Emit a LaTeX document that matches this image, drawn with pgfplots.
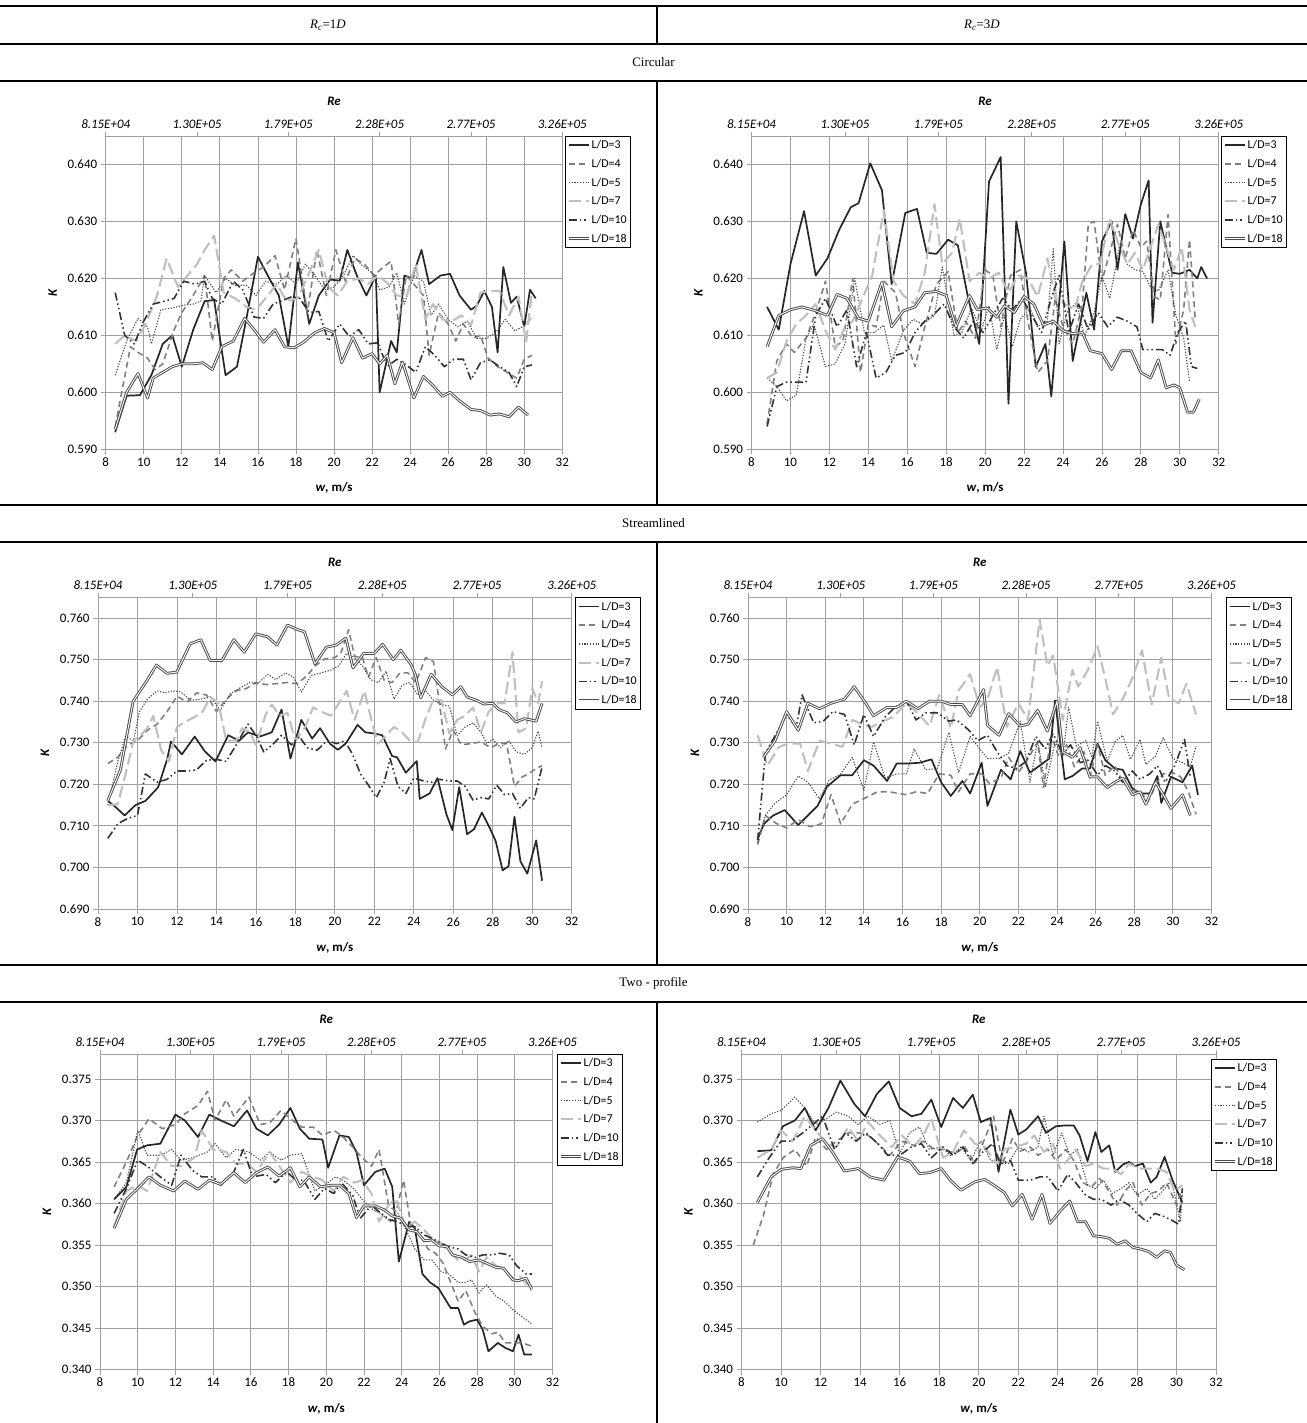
\documentclass[border=0pt]{standalone}
\usepackage{pgfplots}
\pgfplotsset{compat=1.18}
\usepackage{fontspec}
\setmainfont{Carlito}
\newfontfamily\timesfont{Liberation Serif}
\definecolor{gridc}{RGB}{160,160,160}
\definecolor{c3}{RGB}{38,38,38}
\definecolor{c4}{RGB}{128,128,128}
\definecolor{c5}{RGB}{70,70,70}
\definecolor{c7}{RGB}{191,191,191}
\definecolor{c10}{RGB}{51,51,51}
\definecolor{c18}{RGB}{75,75,75}
\pgfplotsset{
 panel/.style={scale only axis, xmin=8, xmax=32, xtick={8,10,...,32}, no markers,
   axis x line*=bottom, axis y line*=left,
   every outer x axis line/.append style={-}, every outer y axis line/.append style={-},
   every inner x axis line/.append style={-}, every inner y axis line/.append style={-},
   axis line style={gridc, line width=0.8bp},
   grid=major, grid style={gridc, line width=0.8bp},
   tick style={gridc, line width=0.8bp}, tick align=outside, major tick length=5bp,
   ticklabel style={font=\fontsize{13}{15}\selectfont},
   /pgf/number format/assume math mode=true,
   yticklabel style={/pgf/number format/.cd, fixed, fixed zerofill, precision=3},
   xlabel={\textbf{\textit{w}, m/s}},
   ylabel={\textbf{\textit{K}}},
   label style={font=\fontsize{13}{15}\selectfont},
   xlabel style={at={(axis description cs:0.5,0)}, anchor=center, yshift=-39bp},
   ylabel style={at={([xshift=-53bp]axis description cs:0,0.5)}, anchor=center},
   legend cell align=left,
   legend style={font=\fontsize{12}{14}\selectfont, draw=black, line width=0.8bp, at={(1,1)}, anchor=north west, inner xsep=2bp, inner ysep=2.5bp, row sep=5.9bp, nodes={inner sep=1.5bp}},
   legend image code/.code={\draw[#1] (0bp,0bp) -- (20bp,0bp);},
   every axis plot/.append style={line join=round},
 },
 reaxis/.style={scale only axis, xmin=8, xmax=32, ymin=0, ymax=1,
   axis x line*=top, axis y line=none, ytick=\empty,
   every outer x axis line/.append style={-}, every inner x axis line/.append style={-},
   axis line style={gridc, line width=0.8bp},
   tick style={gridc, line width=0.8bp}, tick align=outside, major tick length=4bp,
   xtick={8,12.8,17.6,22.4,27.2,32},
   xticklabels={8.15E+04,1.30E+05,1.79E+05,2.28E+05,2.77E+05,3.26E+05},
   xticklabel style={font=\fontsize{13}{15}\selectfont\itshape},
   xlabel={\textbf{\textit{Re}}},
   xlabel style={font=\fontsize{13}{15}\selectfont, at={(axis description cs:0.5,1)}, anchor=center, yshift=35bp},
 },
 s3/.style={draw=c3, line width=1.7bp},
 s4/.style={draw=c4, line width=1.6bp, dash pattern=on 6bp off 4bp},
 s5/.style={draw=c5, line width=1.1bp, dash pattern=on 1.2bp off 1.6bp},
 s7/.style={draw=c7, line width=2.1bp, dash pattern=on 12bp off 5bp},
 s10/.style={draw=c10, line width=1.6bp, dash pattern=on 8bp off 3bp on 1.5bp off 3bp on 1.5bp off 3bp},
 s18/.style={draw=c18, line width=0.95bp, double=white, double distance=0.9bp},
}
\begin{document}
\begin{tikzpicture}
\path[use as bounding box] (0bp,0bp) rectangle (1307bp,1423bp);
% table rules
\foreach \yy in {1417,1379,1342,918,881,458,421} {\draw[line width=1.8bp] (0bp,\yy bp) -- (1307bp,\yy bp);}
\draw[line width=1.6bp] (657bp,1417bp) -- (657bp,1379bp);
\draw[line width=1.6bp] (657bp,1342bp) -- (657bp,918bp);
\draw[line width=1.6bp] (657bp,881bp) -- (657bp,458bp);
\draw[line width=1.6bp] (657bp,421bp) -- (657bp,0bp);
\node[font=\timesfont\fontsize{13}{15}\selectfont] at (328bp,1398bp) {\textit{R}\textsubscript{\textit{c}}=1\textit{D}};
\node[font=\timesfont\fontsize{13}{15}\selectfont] at (982bp,1398bp) {\textit{R}\textsubscript{\textit{c}}=3\textit{D}};
\node[font=\timesfont\fontsize{13}{15}\selectfont] at (653.5bp,1360.5bp) {Circular};
\node[font=\timesfont\fontsize{13}{15}\selectfont] at (653.5bp,899.5bp) {Streamlined};
\node[font=\timesfont\fontsize{13}{15}\selectfont] at (653.5bp,439.5bp) {Two - profile};

% ===== Panel A: Circular, Rc=1D =====
\begin{axis}[panel, at={(105.7bp,973.7bp)}, anchor=south west, width=456.6bp, height=313.3bp,
  ymin=0.590, ymax=0.645, ytick={0.590,0.600,0.610,0.620,0.630,0.640}, legend style={xshift=2.7bp}]
\addplot[s3] coordinates {(8.5,0.593) (9.1,0.5994) (9.8,0.5995) (10.4,0.603) (11.0,0.6085) (11.5,0.610) (12.0,0.6045) (12.6,0.611) (13.2,0.616) (13.7,0.6162) (14.3,0.603) (14.9,0.6045) (15.4,0.613) (16.0,0.6238) (16.6,0.620) (17.1,0.617) (17.6,0.608) (18.1,0.6228) (18.7,0.612) (19.2,0.617) (19.8,0.6198) (20.3,0.6196) (20.7,0.625) (21.2,0.6205) (21.7,0.617) (22.2,0.6205) (22.4,0.600) (23.0,0.609) (23.3,0.607) (23.7,0.6205) (24.1,0.620) (24.6,0.625) (25.0,0.619) (25.6,0.6205) (26.1,0.6208) (26.6,0.617) (27.2,0.6145) (27.5,0.6152) (27.9,0.6178) (28.3,0.615) (28.6,0.607) (28.9,0.622) (29.3,0.6157) (29.6,0.6168) (30.0,0.6115) (30.3,0.618) (30.6,0.6165)};
\addplot[s4] coordinates {(8.5,0.594) (8.9,0.601) (9.3,0.608) (9.7,0.607) (10.2,0.606) (10.6,0.604) (11.0,0.605) (11.6,0.611) (12.0,0.614) (12.6,0.617) (13.2,0.6205) (13.6,0.609) (14.2,0.620) (14.6,0.6215) (15.2,0.6195) (15.8,0.621) (16.3,0.622) (16.9,0.624) (17.4,0.618) (18.0,0.627) (18.6,0.614) (19.1,0.625) (19.6,0.617) (20.1,0.625) (20.6,0.6195) (21.1,0.6235) (21.6,0.6225) (22.1,0.6205) (22.6,0.622) (23.0,0.623) (23.4,0.612) (23.8,0.6205) (24.2,0.619) (24.7,0.617) (25.0,0.6065) (25.5,0.614) (26.0,0.612) (26.4,0.609) (26.8,0.612) (27.3,0.6095) (27.7,0.610) (28.1,0.606) (28.6,0.6045) (29.1,0.6035) (29.6,0.6025) (30.0,0.6058) (30.4,0.6065)};
\addplot[s5] coordinates {(8.5,0.603) (9.1,0.609) (9.7,0.613) (10.2,0.6115) (10.4,0.6085) (10.9,0.6145) (11.5,0.6148) (12.1,0.6153) (12.6,0.6155) (13.0,0.616) (13.2,0.6205) (13.8,0.6175) (14.3,0.620) (14.8,0.6188) (15.4,0.6188) (15.9,0.617) (16.4,0.6195) (17.0,0.619) (17.5,0.6205) (18.0,0.619) (18.5,0.6225) (19.0,0.6205) (19.5,0.618) (20.0,0.6185) (20.5,0.6205) (21.0,0.624) (21.5,0.6222) (22.0,0.621) (22.4,0.618) (22.9,0.6185) (23.3,0.621) (23.7,0.6155) (24.2,0.6205) (24.7,0.6195) (25.1,0.6135) (25.5,0.6155) (26.0,0.6128) (26.5,0.6115) (27.0,0.6125) (27.5,0.6095) (28.0,0.6095) (28.5,0.6105) (29.0,0.6128) (29.5,0.6108) (29.9,0.6115) (30.4,0.613)};
\addplot[s7] coordinates {(8.5,0.6085) (9.0,0.610) (9.6,0.609) (10.1,0.612) (10.7,0.617) (11.2,0.6235) (11.8,0.6185) (12.3,0.6205) (12.8,0.6225) (13.2,0.625) (13.7,0.6275) (14.2,0.6175) (14.8,0.6165) (15.4,0.615) (15.9,0.6145) (16.4,0.6165) (17.0,0.619) (17.5,0.616) (18.1,0.6165) (18.7,0.621) (19.2,0.625) (19.7,0.6185) (20.2,0.617) (20.7,0.6195) (21.3,0.620) (21.8,0.619) (22.3,0.6205) (22.8,0.6192) (23.3,0.617) (23.8,0.6168) (24.3,0.6225) (24.8,0.6128) (25.2,0.6155) (25.7,0.6128) (26.2,0.6125) (26.7,0.6135) (27.2,0.6118) (27.7,0.6175) (28.2,0.6178) (28.7,0.6178) (29.2,0.6135) (29.7,0.6168) (30.1,0.6088) (30.4,0.6175)};
\addplot[s10] coordinates {(8.5,0.6175) (9.0,0.610) (9.5,0.6085) (10.0,0.6125) (10.5,0.6155) (11.1,0.616) (11.6,0.6165) (12.1,0.6195) (12.7,0.619) (13.2,0.6195) (13.6,0.6165) (14.1,0.6155) (14.7,0.6195) (15.2,0.618) (15.8,0.6132) (16.3,0.613) (16.8,0.6155) (17.2,0.616) (17.8,0.6168) (18.2,0.6165) (18.7,0.614) (19.2,0.6142) (19.7,0.609) (20.3,0.612) (20.8,0.6098) (21.3,0.611) (21.8,0.6085) (22.3,0.6087) (22.8,0.6045) (23.3,0.6058) (23.8,0.6048) (24.3,0.6035) (24.8,0.608) (25.3,0.6065) (25.8,0.6045) (26.3,0.6058) (26.8,0.6058) (27.2,0.6022) (27.7,0.6052) (28.2,0.6057) (28.7,0.6045) (29.2,0.6035) (29.6,0.601) (30.0,0.6045) (30.4,0.6048)};
\addplot[s18] coordinates {(8.5,0.5935) (9.1,0.600) (9.7,0.6033) (10.2,0.599) (10.5,0.6025) (11.0,0.6035) (11.5,0.6045) (12.0,0.605) (12.6,0.605) (13.1,0.6052) (13.6,0.604) (14.1,0.608) (14.7,0.609) (15.3,0.613) (15.8,0.611) (16.3,0.6088) (16.9,0.611) (17.4,0.608) (17.9,0.6078) (18.4,0.6088) (19.0,0.6105) (19.5,0.6112) (20.0,0.6105) (20.4,0.6052) (21.0,0.6096) (21.5,0.606) (22.0,0.6068) (22.4,0.605) (22.8,0.6065) (23.2,0.6015) (23.6,0.6053) (24.2,0.599) (24.7,0.6028) (25.2,0.6012) (25.7,0.5993) (26.1,0.600) (26.6,0.5985) (27.2,0.597) (27.7,0.5968) (28.2,0.596) (28.7,0.5962) (29.2,0.5957) (29.7,0.5974) (30.2,0.596)};
\legend{L/D=3,L/D=4,L/D=5,L/D=7,L/D=10,L/D=18}
\end{axis}
\begin{axis}[reaxis, at={(105.7bp,973.7bp)}, anchor=south west, width=456.6bp, height=313.3bp]
\end{axis}

% ===== Panel B: Circular, Rc=3D =====
\begin{axis}[panel, at={(751.5bp,973.7bp)}, anchor=south west, width=467.2bp, height=313.3bp,
  ymin=0.590, ymax=0.645, ytick={0.590,0.600,0.610,0.620,0.630,0.640}, legend style={xshift=2.3bp}]
\addplot[s3] coordinates {(8.8,0.615) (9.4,0.611) (10.0,0.6225) (10.7,0.6318) (11.3,0.6205) (11.9,0.6235) (12.5,0.6285) (13.1,0.6325) (13.5,0.6332) (14.1,0.6402) (14.7,0.6355) (15.2,0.619) (15.9,0.6315) (16.5,0.6322) (17.0,0.6245) (17.5,0.6243) (18.1,0.6268) (18.6,0.6258) (19.1,0.617) (19.7,0.6085) (20.2,0.637) (20.8,0.6413) (21.2,0.598) (21.6,0.630) (22.1,0.621) (22.6,0.6045) (23.1,0.6085) (23.4,0.5993) (24.07,0.6265) (24.5,0.6055) (25.2,0.6175) (25.6,0.611) (26.0,0.6265) (26.5,0.630) (26.8,0.6215) (27.2,0.6313) (27.6,0.627) (28.0,0.633) (28.4,0.6372) (28.6,0.6122) (29.0,0.630) (29.6,0.621) (30.0,0.6208) (30.5,0.6215) (30.9,0.620) (31.1,0.622) (31.4,0.620)};
\addplot[s4] coordinates {(8.8,0.5945) (9.3,0.6055) (9.8,0.6085) (10.2,0.607) (10.8,0.6095) (11.3,0.614) (11.8,0.6195) (12.3,0.608) (12.7,0.609) (13.2,0.620) (13.6,0.6035) (14.0,0.612) (14.4,0.6115) (14.8,0.6195) (15.4,0.6175) (15.8,0.6105) (16.4,0.6045) (16.9,0.6115) (17.5,0.619) (18.1,0.6212) (18.6,0.6105) (19.0,0.6125) (19.5,0.6095) (20.0,0.6215) (20.4,0.6205) (20.8,0.6115) (21.3,0.6205) (21.8,0.6215) (22.2,0.6125) (22.7,0.6035) (23.2,0.6055) (23.6,0.6165) (24.0,0.6115) (24.5,0.6085) (25.0,0.6155) (25.3,0.6295) (25.6,0.630) (26.0,0.6195) (26.4,0.6245) (26.8,0.6295) (27.2,0.6235) (27.6,0.6285) (28.0,0.6255) (28.3,0.6265) (28.7,0.6168) (29.0,0.6162) (29.4,0.6312) (29.8,0.6085) (30.2,0.6145) (30.5,0.6268) (30.8,0.6125)};
\addplot[s5] coordinates {(8.8,0.6025) (9.3,0.601) (9.8,0.5985) (10.3,0.5995) (10.8,0.6095) (11.2,0.612) (11.8,0.6045) (12.3,0.605) (12.8,0.6085) (13.3,0.620) (13.8,0.6105) (14.3,0.6105) (14.8,0.6118) (15.2,0.6055) (15.8,0.6108) (16.3,0.6128) (16.8,0.612) (17.4,0.6135) (17.8,0.622) (18.4,0.610) (18.8,0.6105) (19.3,0.6148) (19.8,0.6108) (20.2,0.6152) (20.6,0.6075) (21.0,0.6135) (21.4,0.608) (21.8,0.6128) (22.3,0.6148) (22.7,0.6115) (23.2,0.6125) (23.5,0.6252) (23.8,0.6085) (24.2,0.614) (24.7,0.6158) (25.1,0.6098) (25.6,0.614) (26.0,0.6205) (26.4,0.6165) (26.9,0.6255) (27.3,0.6225) (27.7,0.6215) (28.1,0.6212) (28.5,0.6185) (28.9,0.6178) (29.4,0.6215) (29.8,0.6135) (30.2,0.6095) (30.5,0.6018)};
\addplot[s7] coordinates {(8.8,0.6025) (9.3,0.6035) (9.8,0.609) (10.3,0.612) (10.8,0.6135) (11.3,0.6155) (11.8,0.6108) (12.3,0.6075) (12.8,0.6115) (13.2,0.6125) (13.7,0.6165) (14.2,0.6205) (14.8,0.632) (15.3,0.6195) (15.8,0.617) (16.4,0.6155) (16.9,0.621) (17.4,0.633) (17.8,0.6225) (18.3,0.6245) (18.7,0.6305) (19.2,0.6195) (19.7,0.621) (20.2,0.620) (20.7,0.621) (21.2,0.6175) (21.7,0.6205) (22.2,0.620) (22.7,0.6168) (23.2,0.6235) (23.6,0.6165) (24.1,0.6155) (24.6,0.6145) (25.0,0.6195) (25.5,0.6225) (25.9,0.6225) (26.4,0.6305) (26.8,0.6265) (27.3,0.6225) (27.7,0.6245) (28.1,0.6215) (28.5,0.6255) (28.9,0.6295) (29.3,0.6255) (29.7,0.6215) (30.1,0.6255) (30.5,0.6145) (30.8,0.6115)};
\addplot[s10] coordinates {(8.8,0.594) (9.3,0.601) (9.8,0.6018) (10.3,0.6018) (10.8,0.6018) (11.3,0.6135) (11.8,0.6165) (12.4,0.6115) (12.9,0.6145) (13.4,0.6045) (13.9,0.6105) (14.4,0.6025) (14.9,0.6035) (15.4,0.6065) (15.9,0.607) (16.4,0.6105) (16.9,0.6125) (17.4,0.6138) (17.9,0.6155) (18.4,0.6115) (18.9,0.6095) (19.4,0.6125) (19.9,0.6105) (20.4,0.6135) (20.9,0.6165) (21.4,0.6145) (21.9,0.6165) (22.4,0.6135) (22.9,0.6105) (23.4,0.6165) (23.8,0.6205) (24.3,0.6105) (24.8,0.6155) (25.3,0.611) (25.8,0.614) (26.3,0.6115) (26.8,0.6132) (27.3,0.6125) (27.8,0.6115) (28.1,0.6075) (28.6,0.6075) (29.1,0.6075) (29.5,0.6065) (29.9,0.6105) (30.3,0.6125) (30.6,0.6045) (30.9,0.6042)};
\addplot[s18] coordinates {(8.8,0.608) (9.4,0.6135) (10.0,0.6145) (10.6,0.615) (11.3,0.6143) (11.9,0.6135) (12.4,0.6172) (12.9,0.6165) (13.5,0.613) (14.0,0.6125) (14.7,0.6193) (15.2,0.6115) (15.8,0.6143) (16.4,0.615) (16.9,0.6175) (17.5,0.6177) (18.0,0.617) (18.5,0.6115) (19.2,0.617) (19.6,0.6145) (20.1,0.6148) (20.6,0.6132) (21.0,0.6152) (21.5,0.614) (22.0,0.6168) (22.5,0.6155) (23.0,0.6118) (23.5,0.6125) (24.0,0.6108) (24.5,0.6103) (25.0,0.6105) (25.4,0.6073) (26.0,0.6068) (26.5,0.604) (27.0,0.6073) (27.5,0.6073) (28.0,0.6035) (28.5,0.6025) (28.9,0.6057) (29.3,0.6008) (29.7,0.6013) (30.0,0.6008) (30.4,0.5965) (30.7,0.5965) (31.0,0.5988)};
\legend{L/D=3,L/D=4,L/D=5,L/D=7,L/D=10,L/D=18}
\end{axis}
\begin{axis}[reaxis, at={(751.5bp,973.7bp)}, anchor=south west, width=467.2bp, height=313.3bp]
\end{axis}

% ===== Panel C: Streamlined, Rc=1D =====
\begin{axis}[panel, at={(98bp,514bp)}, anchor=south west, width=473.7bp, height=311.7bp,
  ymin=0.690, ymax=0.765, ytick={0.690,0.700,0.710,0.720,0.730,0.740,0.750,0.760}, legend style={xshift=3.3bp}]
\addplot[s3] coordinates {(8.5,0.716) (8.9,0.7145) (9.35,0.7125) (9.9,0.715) (10.4,0.716) (11.05,0.7193) (11.5,0.726) (11.7,0.7303) (12.25,0.7272) (12.9,0.7315) (13.4,0.728) (13.95,0.7255) (14.6,0.7318) (15.15,0.7305) (15.6,0.7325) (16.2,0.7315) (16.8,0.7325) (17.3,0.738) (17.75,0.7262) (18.3,0.7355) (18.85,0.731) (19.25,0.7335) (19.75,0.7298) (20.15,0.7283) (20.55,0.7298) (21.15,0.7343) (21.55,0.7325) (22.05,0.7322) (22.4,0.7318) (22.9,0.7268) (23.15,0.7265) (23.6,0.7228) (24.15,0.7256) (24.3,0.7165) (24.8,0.7178) (25.2,0.7215) (25.65,0.7128) (25.95,0.709) (26.3,0.7193) (26.7,0.708) (27.05,0.7092) (27.45,0.7132) (27.85,0.7095) (28.15,0.7063) (28.5,0.6993) (28.8,0.7003) (29.1,0.7122) (29.4,0.7015) (29.75,0.6985) (30.2,0.7065) (30.5,0.6968)};
\addplot[s4] coordinates {(8.5,0.725) (9.0,0.7265) (9.5,0.7295) (10.0,0.7305) (10.5,0.733) (11.0,0.7345) (11.5,0.7375) (12.0,0.7412) (12.5,0.7398) (13.0,0.742) (13.5,0.7415) (14.0,0.7375) (14.5,0.7405) (15.0,0.7425) (15.5,0.743) (16.0,0.7445) (16.5,0.744) (17.0,0.7442) (17.6,0.7445) (18.1,0.7442) (18.6,0.7462) (19.0,0.7485) (19.5,0.7502) (20.0,0.7505) (20.3,0.7515) (20.7,0.7572) (21.0,0.7508) (21.4,0.7505) (21.7,0.7458) (22.1,0.7505) (22.5,0.745) (22.9,0.7445) (23.3,0.7468) (23.7,0.7468) (24.1,0.7445) (24.6,0.7505) (25.0,0.7495) (25.3,0.7395) (25.6,0.7285) (26.0,0.733) (26.4,0.7295) (26.9,0.7298) (27.4,0.7302) (27.9,0.7288) (28.3,0.7298) (28.7,0.7298) (29.1,0.7195) (29.5,0.7218) (29.8,0.7225) (30.1,0.7235) (30.5,0.7245)};
\addplot[s5] coordinates {(8.5,0.715) (9.0,0.7255) (9.4,0.7315) (9.8,0.7305) (10.1,0.7375) (10.5,0.7405) (11.0,0.7425) (11.4,0.742) (11.8,0.7425) (12.2,0.7422) (12.7,0.7402) (13.2,0.7405) (13.7,0.741) (14.2,0.7378) (14.7,0.7418) (15.2,0.7432) (15.7,0.7445) (16.1,0.7442) (16.6,0.7465) (17.0,0.7452) (17.5,0.7468) (17.9,0.7458) (18.3,0.7422) (18.8,0.7462) (19.3,0.7468) (19.8,0.7475) (20.2,0.7485) (20.6,0.7515) (21.0,0.7505) (21.4,0.7485) (21.8,0.7452) (22.2,0.7445) (22.6,0.7472) (23.0,0.7405) (23.4,0.7438) (23.8,0.7445) (24.2,0.7415) (24.6,0.7425) (25.0,0.7402) (25.4,0.7392) (25.8,0.7388) (26.2,0.7318) (26.6,0.7338) (27.0,0.7348) (27.4,0.7325) (27.7,0.7298) (28.0,0.7308) (28.4,0.7288) (28.8,0.7305) (29.2,0.7278) (29.6,0.7272) (30.0,0.7288) (30.3,0.7328) (30.5,0.7288)};
\addplot[s7] coordinates {(8.5,0.715) (9.0,0.7152) (9.4,0.7225) (9.8,0.7305) (10.1,0.7315) (10.5,0.7335) (10.8,0.7365) (11.2,0.7282) (11.6,0.7255) (12.0,0.7338) (12.4,0.735) (12.9,0.7362) (13.3,0.7375) (13.7,0.741) (14.1,0.7395) (14.5,0.7305) (15.0,0.7305) (15.3,0.7335) (15.7,0.7325) (16.0,0.7295) (16.5,0.7368) (16.8,0.7392) (17.2,0.7365) (17.6,0.7372) (18.0,0.7305) (18.5,0.7338) (18.9,0.7385) (19.3,0.7375) (19.8,0.7365) (20.2,0.7395) (20.6,0.7425) (21.0,0.7355) (21.5,0.7425) (21.9,0.7345) (22.2,0.7298) (22.6,0.7318) (23.0,0.7338) (23.4,0.7325) (23.8,0.7305) (24.2,0.7302) (24.6,0.7358) (25.0,0.7405) (25.4,0.7402) (25.8,0.7322) (26.2,0.7355) (26.6,0.7365) (27.0,0.7385) (27.4,0.7325) (27.8,0.7375) (28.2,0.7395) (28.6,0.7395) (29.0,0.7518) (29.3,0.7325) (29.7,0.7335) (30.0,0.7432) (30.3,0.7395) (30.5,0.7448)};
\addplot[s10] coordinates {(8.5,0.707) (9.0,0.7105) (9.5,0.7118) (10.0,0.7125) (10.4,0.7225) (11.0,0.7205) (11.5,0.7212) (12.0,0.7232) (12.5,0.7232) (13.0,0.7235) (13.5,0.7258) (14.0,0.726) (14.5,0.7255) (15.0,0.7295) (15.6,0.7345) (16.0,0.7318) (16.4,0.7278) (16.9,0.7298) (17.3,0.7318) (17.8,0.7295) (18.2,0.7315) (18.6,0.7288) (19.1,0.7282) (19.6,0.7305) (20.1,0.7298) (20.5,0.7305) (20.9,0.7272) (21.3,0.7225) (21.7,0.7198) (22.1,0.7168) (22.5,0.7205) (22.8,0.7262) (23.2,0.7195) (23.6,0.7178) (24.0,0.7215) (24.5,0.7208) (24.9,0.7205) (25.3,0.7212) (25.8,0.7208) (26.2,0.7208) (26.6,0.7195) (27.0,0.7162) (27.4,0.7168) (27.8,0.7165) (28.2,0.7198) (28.6,0.7175) (29.0,0.7178) (29.4,0.7142) (29.8,0.7168) (30.1,0.7165) (30.5,0.7242)};
\addplot[s18] coordinates {(8.49,0.716) (9.14,0.7235) (9.78,0.740) (10.42,0.7445) (10.96,0.7487) (11.49,0.7467) (11.99,0.747) (12.67,0.7538) (13.21,0.7548) (13.68,0.7498) (14.28,0.7498) (14.88,0.7548) (15.41,0.7518) (15.99,0.7562) (16.59,0.7555) (17.06,0.7535) (17.6,0.7583) (18.13,0.7572) (18.46,0.7567) (18.99,0.749) (19.57,0.753) (20.06,0.7535) (20.56,0.7552) (20.92,0.748) (21.46,0.7515) (21.99,0.7515) (22.42,0.7537) (22.96,0.75) (23.34,0.7523) (23.86,0.7488) (24.07,0.7465) (24.35,0.7408) (24.88,0.7465) (25.42,0.7435) (25.96,0.7415) (26.38,0.7435) (26.71,0.741) (27.13,0.7403) (27.56,0.7393) (27.99,0.7395) (28.31,0.738) (28.74,0.7372) (29.17,0.735) (29.6,0.7358) (29.92,0.7355) (30.2,0.7352) (30.5,0.7395)};
\legend{L/D=3,L/D=4,L/D=5,L/D=7,L/D=10,L/D=18}
\end{axis}
\begin{axis}[reaxis, at={(98bp,514bp)}, anchor=south west, width=473.7bp, height=311.7bp]
\end{axis}

% ===== Panel D: Streamlined, Rc=3D =====
\begin{axis}[panel, at={(748bp,514bp)}, anchor=south west, width=463.5bp, height=311.7bp,
  ymin=0.690, ymax=0.765, ytick={0.690,0.700,0.710,0.720,0.730,0.740,0.750,0.760}, legend style={xshift=14.5bp}]
\addplot[s3] coordinates {(8.5,0.707) (8.83,0.7105) (9.3,0.7125) (9.9,0.7138) (10.6,0.7102) (11.1,0.7125) (11.6,0.7148) (12.1,0.7195) (12.8,0.7222) (13.4,0.7222) (14.0,0.7258) (14.5,0.7245) (15.2,0.7208) (15.7,0.725) (16.3,0.725) (16.9,0.7252) (17.5,0.726) (18.0,0.7205) (18.5,0.7172) (19.1,0.7208) (19.5,0.7178) (20.1,0.7252) (20.4,0.7148) (21.1,0.7235) (21.6,0.7212) (22.1,0.728) (22.6,0.7228) (23.1,0.7245) (23.6,0.7262) (23.9,0.7402) (24.4,0.7212) (24.8,0.722) (25.3,0.7238) (25.7,0.7238) (26.1,0.7298) (26.5,0.7258) (27.0,0.7238) (27.4,0.7235) (27.9,0.719) (28.3,0.7178) (28.8,0.7178) (29.2,0.722) (29.4,0.7155) (29.9,0.7218) (30.5,0.7205) (31.0,0.7245) (31.3,0.7175)};
\addplot[s4] coordinates {(8.5,0.7055) (8.9,0.7125) (9.5,0.7105) (10.0,0.7095) (10.6,0.7115) (11.2,0.7098) (11.8,0.7105) (12.3,0.7175) (12.8,0.7105) (13.4,0.7152) (14.1,0.7168) (14.7,0.7182) (15.3,0.7182) (16.2,0.7175) (16.7,0.7182) (17.3,0.7178) (17.9,0.7225) (18.5,0.7222) (18.9,0.7182) (19.5,0.7225) (20.1,0.7225) (20.5,0.7202) (21.1,0.7215) (21.5,0.7265) (22.0,0.7228) (22.5,0.7262) (23.0,0.7302) (23.3,0.7192) (23.7,0.7318) (24.1,0.7265) (24.5,0.7295) (24.9,0.7242) (25.4,0.7278) (25.7,0.7215) (26.1,0.7295) (26.5,0.7222) (27.0,0.7245) (27.3,0.7215) (27.8,0.7185) (28.3,0.7185) (28.7,0.7158) (29.2,0.7205) (29.5,0.7225) (30.0,0.7228) (30.4,0.7218) (30.8,0.7182) (31.2,0.7128)};
\addplot[s5] coordinates {(8.5,0.706) (8.9,0.7125) (9.4,0.7155) (10.0,0.7175) (10.6,0.722) (11.1,0.7205) (11.7,0.7165) (12.2,0.721) (12.8,0.7225) (13.4,0.7265) (14.0,0.7185) (14.5,0.7302) (15.1,0.7215) (15.7,0.7225) (16.2,0.7225) (16.6,0.7285) (17.2,0.7235) (17.8,0.7238) (18.4,0.7325) (18.9,0.7228) (19.5,0.7315) (20.0,0.7285) (20.4,0.7262) (21.0,0.7262) (21.5,0.7275) (22.1,0.7352) (22.6,0.7205) (23.0,0.7305) (23.4,0.7195) (23.9,0.7302) (24.3,0.7265) (24.6,0.7385) (25.0,0.7292) (25.5,0.7305) (25.8,0.7265) (26.1,0.7352) (26.6,0.7255) (27.0,0.7302) (27.4,0.7318) (27.8,0.726) (28.3,0.7308) (28.6,0.7248) (29.1,0.7268) (29.5,0.7312) (30.0,0.7262) (30.5,0.7252) (30.9,0.7242) (31.2,0.7292)};
\addplot[s7] coordinates {(8.5,0.7318) (9.0,0.7245) (9.6,0.729) (10.1,0.7298) (10.7,0.7298) (11.1,0.7232) (11.7,0.7305) (12.3,0.7298) (12.9,0.729) (13.4,0.7355) (13.9,0.7345) (14.4,0.7338) (15.0,0.7352) (15.5,0.7362) (16.2,0.7395) (16.7,0.7375) (17.4,0.734) (17.9,0.7415) (18.5,0.7335) (18.9,0.7425) (19.5,0.7465) (20.0,0.7385) (20.4,0.7405) (20.9,0.7482) (21.4,0.7338) (22.0,0.7395) (22.5,0.7355) (23.1,0.7597) (23.5,0.7485) (23.8,0.751) (24.3,0.7355) (24.8,0.7475) (25.1,0.7435) (25.6,0.7475) (26.1,0.7532) (26.5,0.7455) (26.9,0.7368) (27.4,0.7405) (27.9,0.7455) (28.4,0.7522) (28.9,0.7392) (29.4,0.7505) (29.8,0.7408) (30.3,0.7395) (30.7,0.7442) (31.2,0.7368)};
\addplot[s10] coordinates {(8.5,0.7065) (8.9,0.7275) (9.5,0.7325) (10.0,0.7368) (10.5,0.7338) (10.8,0.7415) (11.4,0.7348) (11.9,0.7352) (12.4,0.7375) (13.0,0.7368) (13.5,0.7295) (14.0,0.7368) (14.5,0.7315) (15.1,0.7362) (15.6,0.7385) (16.2,0.740) (16.7,0.7355) (17.2,0.7372) (17.8,0.7372) (18.4,0.7352) (18.8,0.7355) (19.4,0.7332) (19.9,0.7305) (20.4,0.7318) (20.9,0.7278) (21.4,0.7245) (21.9,0.7238) (22.4,0.7255) (22.9,0.7315) (23.4,0.7285) (23.8,0.7322) (24.3,0.7272) (24.7,0.7295) (25.2,0.7252) (25.6,0.7258) (26.1,0.7222) (26.5,0.7245) (27.0,0.7232) (27.4,0.7205) (27.9,0.7232) (28.3,0.7212) (28.8,0.7225) (29.2,0.7245) (29.6,0.7205) (30.1,0.7245) (30.6,0.7308) (30.9,0.7218)};
\addplot[s18] coordinates {(8.8,0.7265) (9.4,0.7305) (10.0,0.7375) (10.6,0.733) (11.1,0.7395) (11.7,0.7382) (12.3,0.7395) (13.0,0.7405) (13.5,0.7435) (14.1,0.7395) (14.5,0.7365) (15.2,0.7385) (15.7,0.7385) (16.2,0.740) (16.8,0.7382) (17.4,0.740) (18.0,0.740) (18.5,0.7392) (19.1,0.7392) (19.5,0.7365) (20.2,0.7428) (20.4,0.7342) (21.0,0.7318) (21.5,0.737) (22.1,0.734) (22.5,0.7345) (23.0,0.7378) (23.5,0.7328) (24.0,0.740) (24.3,0.7278) (24.8,0.7265) (25.2,0.7288) (25.7,0.7218) (26.1,0.7218) (26.6,0.7192) (27.0,0.7205) (27.4,0.7215) (27.9,0.7175) (28.3,0.7182) (28.6,0.7152) (29.1,0.7205) (29.5,0.7175) (29.9,0.7142) (30.5,0.7175) (30.9,0.7125)};
\legend{L/D=3,L/D=4,L/D=5,L/D=7,L/D=10,L/D=18}
\end{axis}
\begin{axis}[reaxis, at={(748bp,514bp)}, anchor=south west, width=463.5bp, height=311.7bp]
\end{axis}

% ===== Panel E: Two-profile, Rc=1D =====
\begin{axis}[panel, at={(100bp,53.5bp)}, anchor=south west, width=452.5bp, height=315.5bp,
  ymin=0.340, ymax=0.378, ytick={0.340,0.345,0.350,0.355,0.360,0.365,0.370,0.375}, legend style={xshift=4.5bp}]
\addplot[s3] coordinates {(8.75,0.3605) (9.4,0.362) (9.97,0.3665) (10.5,0.367) (11.2,0.3672) (12.0,0.3707) (12.5,0.370) (13.2,0.368) (13.8,0.3707) (14.4,0.370) (15.1,0.3693) (15.8,0.3712) (16.3,0.369) (16.9,0.3682) (17.5,0.3695) (18.1,0.3715) (18.6,0.369) (19.1,0.3678) (19.8,0.3677) (20.1,0.3643) (20.7,0.3682) (21.2,0.368) (21.6,0.3662) (22.0,0.3622) (22.6,0.3638) (23.1,0.3642) (23.5,0.362) (23.85,0.353) (24.4,0.3578) (24.7,0.357) (25.1,0.3515) (25.5,0.3505) (25.95,0.3498) (26.3,0.3485) (26.6,0.3474) (27.0,0.3474) (27.3,0.3454) (27.6,0.3458) (28.0,0.346) (28.3,0.3448) (28.6,0.3422) (29.1,0.3432) (29.5,0.3426) (29.9,0.3422) (30.2,0.3442) (30.5,0.3418) (30.9,0.3418)};
\addplot[s4] coordinates {(8.75,0.362) (9.4,0.365) (10.0,0.3682) (10.6,0.3702) (11.3,0.369) (12.0,0.3695) (12.5,0.3708) (13.2,0.3718) (13.7,0.3735) (14.1,0.370) (14.7,0.3725) (15.1,0.3705) (15.9,0.3728) (16.5,0.3695) (17.0,0.3697) (17.6,0.3712) (18.1,0.3702) (18.7,0.3692) (19.3,0.3692) (19.8,0.3682) (20.4,0.3688) (20.8,0.3682) (21.4,0.3668) (21.9,0.3655) (22.4,0.3645) (22.8,0.3665) (23.3,0.3598) (23.7,0.359) (24.1,0.3628) (24.5,0.3572) (25.0,0.3562) (25.4,0.3545) (25.8,0.354) (26.2,0.3528) (26.6,0.3505) (27.0,0.3482) (27.4,0.3495) (27.9,0.3468) (28.3,0.3452) (28.8,0.3443) (29.1,0.3445) (29.5,0.3432) (30.0,0.3432) (30.4,0.3432) (30.9,0.3428)};
\addplot[s5] coordinates {(8.75,0.3605) (9.4,0.3625) (10.0,0.3688) (10.5,0.3658) (11.2,0.3658) (11.8,0.3665) (12.3,0.3652) (12.9,0.3655) (13.7,0.3662) (14.1,0.3672) (14.7,0.3655) (15.2,0.3665) (15.9,0.3662) (16.5,0.3652) (17.0,0.3662) (17.6,0.3652) (18.1,0.3658) (18.7,0.366) (19.4,0.3615) (19.9,0.3622) (20.5,0.3632) (20.9,0.3628) (21.5,0.3617) (21.9,0.3605) (22.5,0.3592) (22.9,0.3588) (23.4,0.3578) (23.8,0.3588) (24.3,0.3565) (24.7,0.3545) (25.2,0.3532) (25.6,0.3532) (26.1,0.3518) (26.5,0.3515) (27.0,0.3505) (27.4,0.3505) (27.7,0.3508) (28.1,0.3492) (28.5,0.3502) (29.0,0.3488) (29.4,0.3483) (29.9,0.3472) (30.3,0.3465) (30.9,0.3455)};
\addplot[s7] coordinates {(8.75,0.3572) (9.4,0.3615) (10.0,0.3622) (10.5,0.3615) (11.2,0.3662) (11.8,0.3645) (12.3,0.3645) (13.0,0.3655) (13.4,0.3688) (14.0,0.3665) (14.7,0.3662) (15.2,0.3648) (15.8,0.3648) (16.3,0.3638) (17.0,0.3662) (17.6,0.3642) (18.1,0.3625) (18.7,0.3638) (19.3,0.3632) (19.8,0.3628) (20.4,0.3615) (20.9,0.3632) (21.5,0.3625) (21.9,0.3628) (22.4,0.3612) (22.8,0.3578) (23.3,0.3598) (23.7,0.3605) (24.2,0.3572) (24.7,0.3578) (25.2,0.3568) (25.6,0.3558) (26.1,0.3552) (26.5,0.3542) (27.0,0.3532) (27.4,0.3532) (27.7,0.3538) (28.1,0.3518) (28.5,0.3535) (29.0,0.3525) (29.4,0.3522) (29.9,0.351) (30.3,0.3512) (30.9,0.3495)};
\addplot[s10] coordinates {(8.75,0.3588) (9.4,0.3618) (10.0,0.3652) (10.5,0.3645) (11.2,0.3632) (11.8,0.3622) (12.3,0.3658) (12.9,0.364) (13.4,0.3632) (14.0,0.3632) (14.4,0.3622) (15.1,0.3638) (15.6,0.3665) (16.1,0.3632) (16.8,0.3635) (17.3,0.3625) (17.9,0.3638) (18.4,0.3628) (18.8,0.3628) (19.4,0.3605) (19.9,0.3618) (20.4,0.3612) (20.8,0.3625) (21.4,0.361) (21.8,0.3582) (22.4,0.3598) (22.9,0.3588) (23.4,0.358) (23.8,0.3578) (24.3,0.3572) (24.7,0.3572) (25.2,0.3562) (25.6,0.3558) (26.1,0.3552) (26.5,0.3548) (27.0,0.3545) (27.4,0.3538) (27.9,0.3535) (28.3,0.3538) (28.8,0.3538) (29.2,0.354) (29.7,0.3538) (30.1,0.3525) (30.6,0.3515) (30.9,0.3515)};
\addplot[s18] coordinates {(8.75,0.357) (9.4,0.3605) (10.0,0.3618) (10.6,0.3632) (11.2,0.3622) (11.9,0.3615) (12.5,0.3627) (13.2,0.3617) (13.8,0.3628) (14.4,0.3623) (15.1,0.3637) (15.7,0.3625) (16.3,0.3637) (16.9,0.3644) (17.5,0.3633) (18.1,0.3643) (18.6,0.362) (19.1,0.3632) (19.7,0.362) (20.3,0.3622) (20.7,0.3622) (21.2,0.3612) (21.6,0.3583) (22.0,0.3597) (22.6,0.3597) (23.1,0.3592) (23.5,0.3585) (23.95,0.3582) (24.4,0.3568) (24.8,0.3566) (25.2,0.3555) (25.6,0.3556) (25.96,0.3549) (26.4,0.3548) (26.7,0.3538) (27.2,0.3535) (27.6,0.353) (28.1,0.3532) (28.5,0.3528) (29.0,0.3523) (29.4,0.3522) (29.9,0.3508) (30.2,0.3507) (30.6,0.351) (30.9,0.3497)};
\legend{L/D=3,L/D=4,L/D=5,L/D=7,L/D=10,L/D=18}
\end{axis}
\begin{axis}[reaxis, at={(100bp,53.5bp)}, anchor=south west, width=452.5bp, height=315.5bp]
\end{axis}

% ===== Panel F: Two-profile, Rc=3D =====
\begin{axis}[panel, at={(741.5bp,53.5bp)}, anchor=south west, width=474.5bp, height=315.5bp,
  ymin=0.340, ymax=0.378, ytick={0.340,0.345,0.350,0.355,0.360,0.365,0.370,0.375}, legend style={xshift=-5bp, yshift=-5bp}]
\addplot[s3] coordinates {(8.8,0.3663) (9.5,0.3664) (10.1,0.3693) (10.7,0.370) (11.2,0.3715) (11.75,0.3688) (12.4,0.3715) (13.0,0.3748) (13.7,0.372) (14.25,0.3705) (14.85,0.3732) (15.45,0.3747) (16.0,0.3715) (16.6,0.3705) (17.1,0.3708) (17.6,0.3725) (18.1,0.3692) (18.7,0.3727) (19.2,0.3715) (19.7,0.3731) (20.1,0.3698) (20.6,0.3703) (21.0,0.3638) (21.6,0.3713) (22.0,0.3683) (22.4,0.3689) (23.0,0.3705) (23.4,0.3685) (23.9,0.3693) (24.4,0.3694) (24.8,0.3694) (25.1,0.3682) (25.5,0.3651) (25.9,0.3686) (26.2,0.3662) (26.6,0.367) (26.9,0.3638) (27.3,0.3647) (27.6,0.365) (27.9,0.3645) (28.3,0.3648) (28.7,0.3625) (29.0,0.3632) (29.4,0.3656) (29.8,0.3628) (30.3,0.3601)};
\addplot[s4] coordinates {(8.6,0.355) (9.1,0.3585) (9.6,0.3635) (10.1,0.3655) (10.7,0.3665) (11.3,0.3645) (11.75,0.368) (12.3,0.3665) (12.8,0.3675) (13.4,0.3685) (13.9,0.3685) (14.4,0.3682) (15.0,0.367) (15.5,0.3658) (16.1,0.3675) (16.7,0.367) (17.2,0.3675) (17.75,0.3665) (18.3,0.3665) (18.8,0.366) (19.3,0.3668) (19.8,0.3648) (20.3,0.3678) (20.75,0.3705) (21.2,0.3648) (21.7,0.3678) (22.1,0.3663) (22.6,0.3668) (23.0,0.3658) (23.5,0.3665) (23.9,0.3652) (24.4,0.3665) (24.8,0.3652) (25.25,0.3625) (25.7,0.362) (26.1,0.363) (26.5,0.3618) (27.0,0.3598) (27.4,0.3615) (27.8,0.3625) (28.25,0.3598) (28.7,0.3612) (29.1,0.3615) (29.5,0.3625) (30.0,0.3598) (30.3,0.3618)};
\addplot[s5] coordinates {(8.8,0.3698) (9.5,0.3708) (10.0,0.3712) (10.7,0.3728) (11.2,0.3715) (11.75,0.3695) (12.3,0.3702) (12.8,0.371) (13.4,0.3705) (13.9,0.3695) (14.4,0.3705) (15.0,0.3695) (15.5,0.37) (16.0,0.366) (16.5,0.3685) (17.0,0.3692) (17.5,0.3665) (18.1,0.3668) (18.6,0.3657) (19.1,0.3668) (19.6,0.3652) (20.1,0.3675) (20.6,0.3652) (21.1,0.3648) (21.5,0.3648) (22.0,0.3668) (22.5,0.3662) (23.0,0.3668) (23.3,0.3705) (23.75,0.3658) (24.2,0.3685) (24.6,0.3658) (25.0,0.3665) (25.5,0.3622) (25.9,0.3618) (26.3,0.3628) (26.75,0.3612) (27.2,0.3618) (27.6,0.3625) (28.0,0.361) (28.5,0.3618) (28.9,0.3605) (29.3,0.3615) (29.75,0.3628) (30.2,0.3578) (30.3,0.3612)};
\addplot[s7] coordinates {(8.8,0.3655) (9.5,0.3665) (10.0,0.3688) (10.6,0.3675) (11.2,0.3705) (11.75,0.3688) (12.3,0.3672) (12.8,0.3668) (13.4,0.3692) (13.9,0.3675) (14.4,0.3698) (15.0,0.3682) (15.6,0.3668) (16.1,0.3682) (16.7,0.3668) (17.2,0.3682) (17.6,0.3702) (18.2,0.3655) (18.7,0.3662) (19.25,0.3688) (19.8,0.3672) (20.3,0.3668) (20.9,0.3648) (21.3,0.3665) (21.8,0.3668) (22.4,0.3672) (22.8,0.3682) (23.3,0.3662) (23.75,0.3672) (24.1,0.3642) (24.5,0.3652) (24.9,0.3665) (25.4,0.3645) (25.8,0.3648) (26.3,0.3642) (26.75,0.3642) (27.2,0.3635) (27.6,0.3648) (28.1,0.3642) (28.6,0.3642) (29.0,0.3642) (29.5,0.3638) (29.9,0.3615) (30.3,0.3622)};
\addplot[s10] coordinates {(8.8,0.3632) (9.4,0.3655) (10.0,0.3675) (10.5,0.3675) (11.1,0.3685) (11.6,0.3695) (12.1,0.3705) (12.7,0.3665) (13.25,0.3685) (13.8,0.3675) (14.3,0.3685) (14.9,0.3672) (15.4,0.3658) (16.0,0.3658) (16.6,0.3668) (17.1,0.3672) (17.6,0.3655) (18.2,0.3668) (18.7,0.3658) (19.2,0.3668) (19.7,0.3648) (20.2,0.3662) (20.7,0.3672) (21.1,0.3648) (21.6,0.3652) (22.0,0.3628) (22.6,0.3628) (23.1,0.3632) (23.5,0.3632) (24.0,0.3615) (24.5,0.3635) (24.9,0.3625) (25.4,0.361) (25.8,0.3605) (26.2,0.3605) (26.7,0.3598) (27.1,0.3605) (27.6,0.3598) (28.0,0.3588) (28.5,0.3578) (28.9,0.3588) (29.3,0.3585) (29.75,0.358) (30.1,0.3575) (30.3,0.3618)};
\addplot[s18] coordinates {(8.8,0.3601) (9.5,0.3632) (10.0,0.3641) (10.6,0.3643) (11.0,0.3642) (11.5,0.367) (12.1,0.3678) (12.6,0.3662) (13.2,0.3639) (13.9,0.3642) (14.5,0.3632) (15.2,0.3628) (15.9,0.3656) (16.5,0.3651) (17.0,0.3636) (17.5,0.3637) (18.1,0.3642) (18.6,0.3627) (19.1,0.3616) (19.8,0.3626) (20.3,0.3629) (20.7,0.3623) (21.3,0.3613) (21.7,0.3597) (22.2,0.3611) (22.7,0.3581) (23.2,0.3611) (23.6,0.3576) (24.2,0.3593) (24.6,0.3603) (25.0,0.3578) (25.4,0.3578) (25.8,0.3561) (26.2,0.356) (26.6,0.3558) (27.0,0.3551) (27.4,0.3555) (27.8,0.3547) (28.2,0.3545) (28.6,0.3542) (29.0,0.3535) (29.4,0.3543) (29.7,0.3541) (30.0,0.3526) (30.2,0.3523) (30.4,0.352)};
\legend{L/D=3,L/D=4,L/D=5,L/D=7,L/D=10,L/D=18}
\end{axis}
\begin{axis}[reaxis, at={(741.5bp,53.5bp)}, anchor=south west, width=474.5bp, height=315.5bp]
\end{axis}
\end{tikzpicture}
\end{document}
